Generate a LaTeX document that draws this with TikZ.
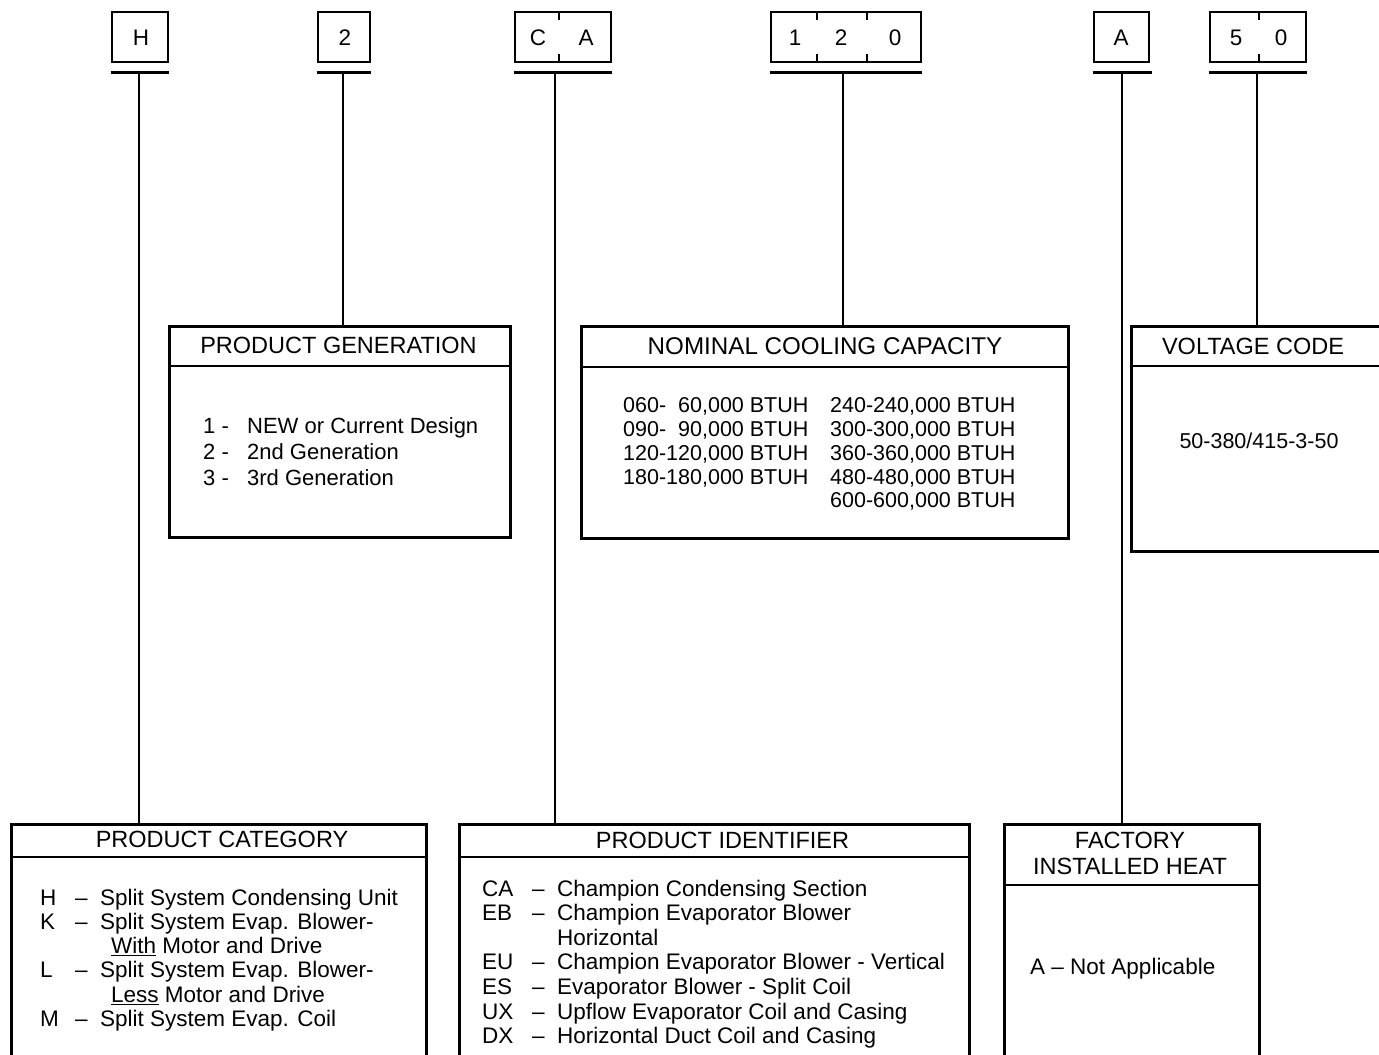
\documentclass[tikz,border=0pt]{standalone}
\usepackage{fontspec}
\setmainfont{Liberation Sans}
\begin{document}
\begin{tikzpicture}[x=1pt,y=-1pt,
  panel/.style={draw, line width=2.8pt, rectangle, inner sep=0pt, anchor=north west},
  codebox/.style={draw, line width=2.8pt, rectangle, inner sep=0pt, minimum height=50pt, font=\fontsize{22.5}{24}\selectfont},
  codechar/.style={inner sep=0pt, font=\fontsize{22.5}{24}\selectfont},
  ttl/.style={inner sep=0pt, align=center, font=\fontsize{23.5}{26}\selectfont},
  body/.style={inner sep=0pt, anchor=base west},
  wire/.style={line width=2.8pt},
  rulel/.style={line width=2.4pt}]
\useasboundingbox (0,0) rectangle (1379,1055);
\clip (0,0) rectangle (1379,1055);

% ---------- code boxes ----------
\node[codebox, minimum width=56pt] (cH) at (140,37) {};
\node[codechar] (tH) at (141,38) {H};
\node[codebox, minimum width=52pt] (c2) at (344,37) {};
\node[codechar] (t2) at (345,38) {2};
\node[codebox, minimum width=96pt] (cCA) at (563,37) {};
\node[codechar] (tC) at (538,38) {C};
\node[codechar] (tA1) at (586,38) {A};
\node[codebox, minimum width=150pt] (c120) at (846,37) {};
\node[codechar] (t1) at (795,38) {1};
\node[codechar] (t2b) at (841,38) {2};
\node[codechar] (t0) at (895,38) {0};
\node[codebox, minimum width=55pt] (cA) at (1121.5,37) {};
\node[codechar] (tA2) at (1121,38) {A};
\node[codebox, minimum width=96pt] (c50) at (1258,37) {};
\node[codechar] (t5) at (1236,38) {5};
\node[codechar] (t0b) at (1281,38) {0};

% dividers (ticks)
\foreach \xx in {559,817,867,1259}{\draw[wire] (\xx,12) -- (\xx,20); \draw[wire] (\xx,54) -- (\xx,62);}

% underbars
\foreach \n in {cH,c2,cCA,c120,c50}{
  \draw[wire] ([yshift=-9pt]\n.south west) -- ([yshift=-9pt]\n.south east);}
\draw[wire] ([yshift=-9pt]cA.south west) -- ([yshift=-9pt,xshift=2pt]cA.south east);

% ---------- panels ----------
\node[panel, minimum width=341pt, minimum height=211pt] (gen) at (168,325) {};
\node[panel, minimum width=487pt, minimum height=212pt] (cap) at (580,325) {};
\node[panel, minimum width=300pt, minimum height=225pt] (volt) at (1130,325) {};
\node[panel, minimum width=415pt, minimum height=300pt] (cat) at (10,823) {};
\node[panel, minimum width=510pt, minimum height=300pt] (ident) at (458,823) {};
\node[panel, minimum width=255pt, minimum height=300pt] (fact) at (1003,823) {};

% header rules
\draw[rulel] ([yshift=-41pt]gen.north west) -- ([yshift=-41pt]gen.north east);
\draw[rulel] ([yshift=-42pt]cap.north west) -- ([yshift=-42pt]cap.north east);
\draw[rulel] ([yshift=-41pt]volt.north west) -- ([yshift=-41pt]volt.north east);
\draw[rulel] ([yshift=-34pt]cat.north west) -- ([yshift=-34pt]cat.north east);
\draw[rulel] ([yshift=-34pt]ident.north west) -- ([yshift=-34pt]ident.north east);
\draw[rulel] ([yshift=-62pt]fact.north west) -- ([yshift=-62pt]fact.north east);

% titles
\node[ttl] (genT) at (338.5,345.5) {PRODUCT GENERATION};
\node[ttl, font=\fontsize{24.2}{26}\selectfont] (capT) at (825,346) {NOMINAL COOLING CAPACITY};
\node[ttl] (voltT) at (1253,346) {VOLTAGE CODE};
\node[ttl] (catT) at (222,839) {PRODUCT CATEGORY};
\node[ttl] (identT) at (722.5,840) {PRODUCT IDENTIFIER};
\node[ttl] (factT) at (1130,853) {FACTORY\\INSTALLED HEAT};

% ---------- stems ----------
\coordinate (sH) at (139,71);
\coordinate (s2) at (343,71);
\coordinate (sCA) at (555,71);
\coordinate (s120) at (843,71);
\coordinate (sA) at (1122,71);
\coordinate (s50) at (1257,71);
\draw[wire] (sH) -- (sH |- cat.north);
\draw[wire] (s2) -- (s2 |- gen.north);
\draw[wire] (sCA) -- (sCA |- ident.north);
\draw[wire] (s120) -- (s120 |- cap.north);
\draw[wire] (sA) -- (sA |- fact.north);
\draw[wire] (s50) -- (s50 |- volt.north);

% ---------- bodies ----------
\node[body] (genB) at (203,433) {\fontsize{22}{26}\selectfont
  \begin{tabular}[t]{@{}l@{}l@{}}
  \makebox[44pt][l]{1 -} & NEW or Current Design\\
  \makebox[44pt][l]{2 -} & 2nd Generation\\
  \makebox[44pt][l]{3 -} & 3rd Generation
  \end{tabular}};

\node[body] (capL) at (623,412.7) {\fontsize{21.5}{23.8}\selectfont
  \begin{tabular}[t]{@{}l@{}}
  060-\phantom{0}60,000 BTUH\\
  090-\phantom{0}90,000 BTUH\\
  120-120,000 BTUH\\
  180-180,000 BTUH
  \end{tabular}};
\node[body] (capR) at (830,412.7) {\fontsize{21.5}{23.8}\selectfont
  \begin{tabular}[t]{@{}l@{}}
  240-240,000 BTUH\\
  300-300,000 BTUH\\
  360-360,000 BTUH\\
  480-480,000 BTUH\\
  600-600,000 BTUH
  \end{tabular}};

\node[inner sep=0pt, font=\fontsize{21.5}{24}\selectfont] (voltB) at (1259,441) {50-380/415-3-50};

\node[body] (catB) at (40,905) {\fontsize{22.5}{24.3}\selectfont
  \begin{tabular}[t]{@{}l@{}l@{}l@{}}
  \makebox[35pt][l]{H} & \makebox[25pt][l]{–} & Split System Condensing Unit\\
  \makebox[35pt][l]{K} & \makebox[25pt][l]{–} & Split System Evap. Blower-\\
   & & \hspace{11pt}\underline{With} Motor and Drive\\
  \makebox[35pt][l]{L} & \makebox[25pt][l]{–} & Split System Evap. Blower-\\
   & & \hspace{11pt}\underline{Less} Motor and Drive\\
  \makebox[35pt][l]{M} & \makebox[25pt][l]{–} & Split System Evap. Coil
  \end{tabular}};

\node[body] (identB) at (482,896) {\fontsize{22.5}{24.6}\selectfont
  \begin{tabular}[t]{@{}l@{}l@{}l@{}}
  \makebox[50pt][l]{CA} & \makebox[25pt][l]{–} & Champion Condensing Section\\
  \makebox[50pt][l]{EB} & \makebox[25pt][l]{–} & Champion Evaporator Blower\\
   & & Horizontal\\
  \makebox[50pt][l]{EU} & \makebox[25pt][l]{–} & Champion Evaporator Blower - Vertical\\
  \makebox[50pt][l]{ES} & \makebox[25pt][l]{–} & Evaporator Blower - Split Coil\\
  \makebox[50pt][l]{UX} & \makebox[25pt][l]{–} & Upflow Evaporator Coil and Casing\\
  \makebox[50pt][l]{DX} & \makebox[25pt][l]{–} & Horizontal Duct Coil and Casing
  \end{tabular}};

\node[body, font=\fontsize{22.5}{24.6}\selectfont] (factB) at (1030,974) {A – Not Applicable};
\end{tikzpicture}
\end{document}
